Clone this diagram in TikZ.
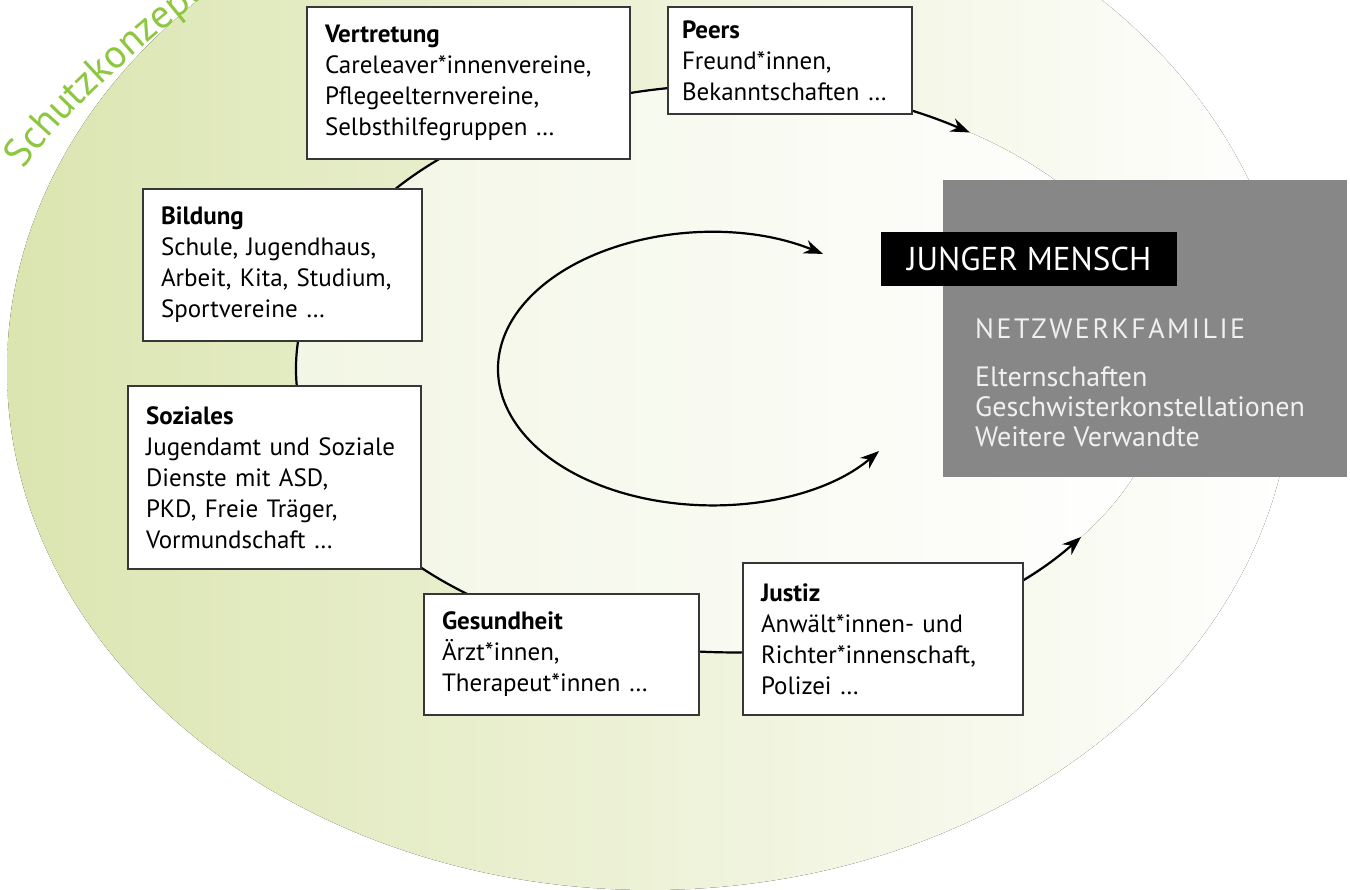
\documentclass[tikz,border=0pt]{standalone}
\usepackage{fontspec}
\setmainfont{PT Sans}
\usetikzlibrary{arrows.meta,calc,decorations.text}

\definecolor{schutzgruen}{RGB}{141,198,63}
\definecolor{flaecheA}{RGB}{219,229,176}
\definecolor{flaecheB}{RGB}{230,237,200}
\definecolor{innenA}{RGB}{242,246,228}
\definecolor{innenB}{RGB}{249,251,242}
\definecolor{familiegrau}{RGB}{135,135,135}
\definecolor{rahmen}{RGB}{55,55,55}
\definecolor{hellschrift}{RGB}{240,240,240}

\tikzset{
  infobox/.style={draw=rahmen, line width=2pt, fill=white, anchor=north west,
    align=left, inner xsep=18pt, inner ysep=0pt, font=\fontsize{25}{31}\selectfont},
  kreispfeil/.style={line width=2.2pt,
    {Stealth[length=19pt,width=14pt]}-{Stealth[length=19pt,width=14pt]}},
}

\begin{document}
\begin{tikzpicture}[x=1pt, y=1pt]
    \useasboundingbox (0,0) rectangle (1350,-890);
    \clip (0,0) rectangle (1350,-890);

    % Schutzkonzept
    \coordinate (flaeche) at (650,-370);
    \fill[left color=flaecheA, middle color=flaecheB, right color=white]
        (flaeche) ellipse[x radius=643, y radius=520];
    \coordinate (schutzA) at (24,-170);
    \coordinate (schutzB) at (240,30);
    \path[decorate, decoration={text along path,
        text={|\fontsize{40}{40}\selectfont\color{schutzgruen}|Schutzkonzept}}]
        (schutzA) .. controls (62,-111) and (183,-10) .. (schutzB);

    % Ring
    \coordinate (ring) at (731,-369);
    \fill[left color=innenA, middle color=innenB, right color=white]
        (ring) ellipse[x radius=435, y radius=283];
    \draw[kreispfeil] ($(ring)+(56.7:435 and 283)$)
        arc[start angle=56.7, end angle=323.6, x radius=435, y radius=283];
    \coordinate (kern) at (710,-369);
    \draw[kreispfeil] ($(kern)+(57.8:212 and 136)$)
        arc[start angle=57.8, end angle=322.9, x radius=212, y radius=136];

    % Akteure
    \node[infobox, text width=287, minimum height=152] (vertretung) at (306,-6)
        {\textbf{Vertretung}\\Careleaver*innenvereine,\\Pflegeelternvereine,\\Selbsthilfegruppen \dots};
    \node[infobox, inner xsep=14pt, text width=216, minimum height=107] (peers) at (667,-6)
        {\textbf{Peers}\\Freund*innen,\\Bekanntschaften \dots};
    \node[infobox, text width=243, minimum height=152] (bildung) at (142,-188)
        {\textbf{Bildung}\\Schule, Jugendhaus,\\Arbeit, Kita, Studium,\\Sportvereine \dots};
    \node[infobox, text width=257, minimum height=183] (soziales) at (127,-385)
        {\textbf{Soziales}\\Jugendamt und Soziale\\Dienste mit ASD,\\PKD, Freie Träger,\\Vormundschaft \dots};
    \node[infobox, text width=239, minimum height=121] (gesundheit) at (423,-593)
        {\textbf{Gesundheit}\\Ärzt*innen,\\Therapeut*innen \dots};
    \node[infobox, text width=244, minimum height=152] (justiz) at (742,-562)
        {\textbf{Justiz}\\Anwält*innen- und\\Richter*innenschaft,\\Polizei \dots};

    % Netzwerkfamilie
    \node[fill=familiegrau, anchor=north west, inner sep=0pt,
        minimum width=404, minimum height=297] (familie) at (943,-180) {};
    \node[fill=black, text=white, anchor=north west, inner sep=0pt,
        minimum width=296, minimum height=54, font=\fontsize{33}{33}\selectfont] (mensch) at (881,-232)
        {JUNGER MENSCH};
    \node[text=hellschrift, anchor=base west, inner sep=0pt,
        font=\fontsize{28}{28}\selectfont\addfontfeatures{LetterSpace=9}] (netzwerk) at (975,-339)
        {NETZWERKFAMILIE};
    \node[text=hellschrift, anchor=north west, inner sep=0pt, align=left,
        font=\fontsize{28}{30}\selectfont] (verwandte) at (975,-367)
        {Elternschaften\\Geschwisterkonstellationen\\Weitere Verwandte};
\end{tikzpicture}
\end{document}
